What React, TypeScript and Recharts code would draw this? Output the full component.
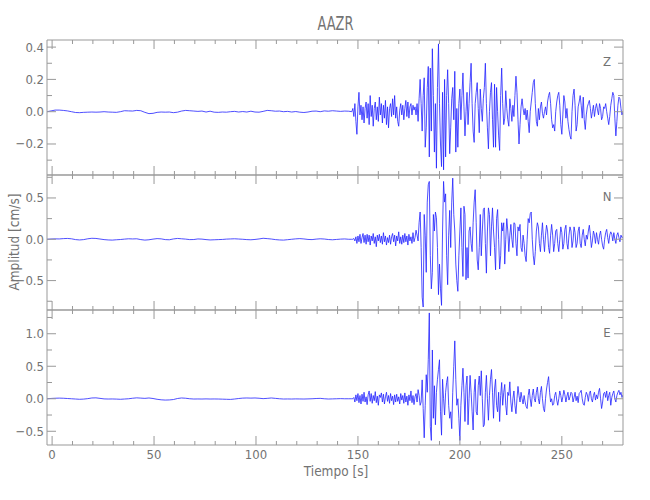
import React from 'react';
import { LineChart, Line, XAxis, YAxis } from 'recharts';

// ---------- time grid ----------
const QUIET_START = -2.5;
const QUIET_STEP = 2;
const ACTIVE_START = 147;
const ACTIVE_STEP = 0.5;
const TIME_DOMAIN: [number, number] = [-2.5, 280];
const X_TICKS = [0, 10, 20, 30, 40, 50, 60, 70, 80, 90, 100, 110, 120, 130, 140, 150, 160, 170, 180, 190, 200, 210, 220, 230, 240, 250, 260, 270];
const X_LABELS = [0, 50, 100, 150, 200, 250];

// ---------- Z component ----------
const zQuiet = [
  0.0, 0.005, 0.01, 0.01, 0.008, 0.005, 0.0, -0.005, -0.006, -0.004,
  -0.003, -0.002, -0.003, -0.002, 0.0, -0.002, -0.003, -0.004, 0.0, 0.006,
  0.005, 0.004, 0.008, 0.006, -0.004, -0.012, -0.01, -0.004, -0.002, -0.003,
  -0.002, -0.006, -0.003, 0.004, 0.008, 0.006, 0.004, 0.002, 0.004, -0.002,
  0.003, -0.003, -0.004, -0.002, -0.003, 0.0, 0.002, -0.002, 0.001, -0.002,
  0.003, -0.002, -0.003, 0.002, 0.008, 0.006, 0.003, 0.004, 0.0, 0.002,
  -0.002, 0.001, -0.003, -0.005, -0.002, 0.003, 0.004, 0.0, 0.005, 0.003,
  0.006, 0.004, 0.002, 0.004, 0.003,
];
const zActive = [
  0.0, 0.02, -0.03, 0.05, -0.06, -0.14, 0.03, 0.12, -0.02, 0.04,
  -0.05, 0.03, -0.07, 0.02, 0.06, -0.04, 0.05, -0.08, 0.1, -0.03,
  0.04, -0.09, 0.02, 0.06, -0.05, 0.03, -0.06, 0.09, -0.02, 0.05,
  -0.07, 0.04, -0.04, 0.07, -0.08, 0.03, -0.1, 0.02, 0.05, -0.03,
  0.08, -0.02, 0.1, -0.04, 0.03, -0.06, -0.09, 0.01, 0.05, -0.02,
  0.04, -0.05, 0.02, 0.07, -0.03, 0.06, -0.04, 0.03, 0.05, -0.02,
  0.04, 0.01, 0.03, -0.02, 0.05, -0.06, 0.08, 0.2, 0.05, -0.12,
  0.1, 0.21, -0.22, -0.1, 0.15, 0.28, -0.28, 0.27, -0.12, 0.39,
  0.1, -0.25, 0.05, -0.35, 0.15, 0.42, 0.05, -0.2, -0.34, 0.12,
  -0.36, 0.2, -0.28, 0.1, 0.26, 0.05, -0.26, -0.1, 0.08, 0.15,
  -0.05, 0.25, -0.25, 0.02, -0.22, 0.05, 0.14, -0.05, 0.1, 0.24,
  0.03, -0.15, 0.0, 0.12, -0.08, 0.05, 0.18, 0.3, 0.05, -0.12,
  -0.19, 0.05, 0.12, 0.18, 0.02, -0.13, 0.14, 0.02, -0.06, 0.08,
  0.15, 0.3, 0.05, -0.1, -0.23, 0.0, 0.12, 0.18, -0.05, -0.22,
  0.17, -0.22, 0.15, 0.0, -0.15, -0.24, 0.1, 0.27, 0.05, -0.08,
  -0.04, 0.13, 0.02, -0.05, -0.09, 0.08, 0.02, -0.06, 0.04, -0.03,
  0.1, 0.22, 0.12, -0.05, -0.2, -0.08, 0.03, 0.08, 0.02, -0.02,
  0.02, -0.05, 0.01, -0.06, -0.13, 0.0, 0.06, 0.12, 0.18, 0.2,
  0.05, -0.06, -0.09, 0.02, -0.05, 0.03, 0.06, -0.01, -0.04, 0.0,
  0.03, -0.02, 0.06, 0.1, 0.12, 0.05, -0.05, -0.1, -0.08, -0.12,
  0.0, 0.06, 0.1, 0.12, 0.04, -0.08, -0.14, -0.02, 0.1, 0.06,
  -0.04, 0.02, -0.06, -0.11, -0.15, -0.17, 0.0, 0.1, 0.14, 0.04,
  -0.12, -0.08, 0.03, 0.06, 0.1, 0.04, -0.04, 0.09, -0.05, -0.11,
  -0.02, 0.03, 0.05, 0.07, 0.02, -0.04, 0.0, 0.04, -0.03, 0.02,
  0.05, 0.01, -0.02, 0.05, 0.02, -0.05, -0.03, 0.03, 0.02, 0.05,
  0.0, -0.04, -0.08, -0.03, 0.04, 0.08, 0.12, 0.1, -0.04, -0.15,
  -0.06, 0.04, 0.09, 0.08, 0.02, -0.02, 0.0,
];

// ---------- N component ----------
const nQuiet = [
  0.0, 0.003, 0.005, 0.004, 0.008, 0.01, 0.006, -0.004, -0.008, -0.004,
  0.006, 0.012, 0.01, 0.003, -0.004, -0.008, -0.01, -0.006, -0.003, 0.002,
  0.006, 0.004, 0.006, -0.004, -0.01, -0.006, 0.002, 0.008, 0.005, -0.004,
  -0.006, 0.004, 0.01, 0.006, 0.002, -0.004, -0.003, 0.004, 0.002, -0.004,
  -0.008, -0.006, -0.004, -0.002, 0.002, 0.004, 0.006, 0.003, 0.0, -0.004,
  -0.006, -0.002, 0.004, 0.012, 0.008, 0.003, -0.004, -0.008, -0.01, -0.005,
  0.0, 0.005, 0.008, 0.004, -0.002, -0.004, 0.002, 0.006, 0.003, -0.003,
  -0.006, -0.002, 0.002, 0.004, 0.0,
];
const nActive = [
  0.0, 0.0, 0.01, -0.02, 0.03, -0.05, 0.04, -0.03, 0.06, -0.05,
  0.02, 0.07, -0.04, 0.05, -0.06, 0.06, -0.03, 0.05, -0.07, 0.04,
  -0.02, 0.07, -0.05, 0.03, -0.09, 0.05, -0.02, 0.06, -0.04, 0.04,
  -0.06, 0.08, -0.03, 0.04, -0.07, 0.02, -0.04, 0.05, -0.06, 0.03,
  0.07, -0.03, 0.05, -0.08, 0.04, -0.02, 0.09, -0.05, 0.03, -0.06,
  0.05, -0.04, 0.07, -0.03, 0.04, -0.07, 0.06, -0.02, 0.03, -0.05,
  0.08, -0.03, 0.02, 0.11, 0.05, -0.02, 0.2, 0.33, -0.1, -0.7,
  -0.82, 0.3, 0.05, -0.4, 0.45, 0.66, 0.7, -0.2, -0.6, -0.4,
  0.3, 0.1, 0.33, 0.26, -0.1, -0.67, -0.3, -0.6, -0.8, 0.1,
  0.7, 0.45, 0.55, -0.2, -0.55, 0.05, 0.35, -0.1, 0.45, 0.74,
  0.3, 0.1, -0.3, -0.5, -0.63, -0.2, 0.1, 0.38, -0.1, -0.45,
  0.4, 0.3, -0.49, -0.1, -0.47, 0.1, 0.15, -0.05, -0.15, 0.2,
  0.45, 0.6, 0.2, -0.25, -0.37, -0.1, 0.3, -0.2, 0.1, 0.36,
  0.38, -0.05, -0.41, 0.1, 0.38, 0.3, -0.2, 0.15, 0.38, 0.1,
  -0.1, -0.37, 0.25, 0.36, 0.0, -0.36, -0.2, 0.2, 0.1, 0.2,
  -0.3, 0.0, 0.25, 0.1, -0.15, 0.05, 0.18, 0.0, -0.1, 0.2,
  0.19, -0.05, -0.2, 0.15, 0.1, 0.18, -0.1, -0.15, 0.05, -0.05,
  -0.2, -0.27, 0.0, 0.25, 0.2, 0.31, 0.33, 0.0, -0.2, -0.31,
  -0.15, 0.1, 0.2, 0.15, -0.05, -0.15, 0.05, 0.2, 0.0, -0.15,
  0.05, 0.17, 0.1, -0.1, -0.17, 0.05, 0.18, 0.05, -0.15, -0.05,
  0.1, 0.12, -0.05, -0.15, 0.0, 0.15, 0.08, -0.12, -0.05, 0.12,
  0.17, -0.05, -0.12, 0.05, 0.15, 0.1, -0.1, -0.02, 0.15, 0.08,
  -0.1, -0.05, 0.1, 0.15, -0.05, -0.1, 0.05, 0.12, 0.0, -0.08,
  0.05, 0.0, 0.1, 0.17, 0.05, -0.1, -0.02, 0.1, 0.05, -0.05,
  0.08, 0.0, -0.06, 0.05, 0.1, 0.0, -0.08, -0.12, 0.0, 0.08,
  0.12, 0.02, -0.05, 0.05, 0.09, 0.06, -0.02, 0.08, 0.0, -0.05,
  0.05, 0.08, 0.02, -0.03, 0.05, 0.02, 0.03,
];

// ---------- E component ----------
const eQuiet = [
  0.0, 0.005, 0.008, 0.01, 0.008, 0.004, 0.0, -0.004, -0.008, -0.005,
  0.002, 0.012, 0.014, 0.006, -0.002, -0.004, -0.003, -0.005, -0.008, -0.004,
  0.0, 0.008, 0.014, 0.01, 0.006, 0.012, 0.004, -0.008, -0.016, -0.02,
  -0.018, -0.012, 0.004, 0.012, 0.008, 0.0, -0.004, -0.003, -0.004, -0.002,
  -0.004, -0.003, -0.004, -0.006, -0.008, -0.01, -0.004, 0.004, 0.01, 0.012,
  0.01, 0.012, 0.008, 0.002, 0.006, 0.012, 0.006, 0.0, -0.004, -0.003,
  -0.004, -0.002, -0.003, -0.004, -0.002, 0.0, 0.004, 0.006, 0.0, -0.004,
  -0.002, 0.0, 0.002, 0.0, 0.0,
];
const eActive = [
  0.0, 0.0, 0.02, -0.05, 0.06, -0.03, 0.08, -0.06, 0.05, -0.08,
  0.07, -0.04, 0.1, -0.05, 0.03, -0.09, 0.06, 0.12, -0.04, 0.08,
  -0.07, 0.05, -0.03, 0.11, -0.06, 0.04, -0.1, 0.06, 0.02, 0.09,
  -0.05, 0.07, -0.08, 0.03, 0.1, -0.04, 0.05, -0.07, 0.08, -0.03,
  0.04, -0.09, 0.06, -0.05, 0.07, -0.04, 0.03, -0.08, 0.08, -0.02,
  0.05, -0.07, 0.09, -0.05, 0.04, -0.1, 0.06, -0.03, 0.12, -0.06,
  0.05, -0.09, 0.03, 0.08, -0.05, 0.14, 0.05, -0.1, -0.05, 0.29,
  -0.15, -0.6, -0.1, 0.37, 0.1, 0.6, 1.32, -0.43, -0.64, 0.75,
  -0.3, 0.2, -0.4, 0.1, 0.3, 0.45, 0.6, -0.2, -0.56, 0.3,
  0.0, -0.25, 0.1, 0.25, 0.34, -0.1, -0.3, -0.2, -0.46, 0.1,
  0.5, 0.89, 0.3, -0.1, 0.0, -0.3, -0.64, -0.1, 0.2, 0.47,
  0.1, -0.35, 0.2, 0.35, -0.4, 0.0, 0.36, 0.1, -0.2, -0.48,
  0.1, 0.3, -0.2, -0.25, 0.2, 0.35, 0.05, 0.43, 0.0, -0.43,
  -0.4, 0.1, 0.36, 0.0, -0.33, 0.05, 0.3, 0.45, 0.1, -0.3,
  0.15, 0.3, -0.1, -0.2, 0.1, -0.35, 0.05, 0.25, -0.1, 0.1,
  0.22, -0.1, -0.25, 0.1, 0.05, 0.26, -0.05, -0.2, 0.0, 0.12,
  -0.1, -0.23, 0.0, 0.19, 0.05, -0.05, 0.1, 0.0, -0.08, 0.05,
  -0.05, -0.12, -0.15, 0.05, 0.15, 0.0, -0.12, 0.05, 0.15, 0.0,
  -0.05, 0.1, 0.18, 0.0, -0.08, 0.1, 0.19, 0.0, -0.15, -0.2,
  0.0, 0.15, 0.25, 0.34, 0.1, -0.05, 0.0, -0.1, -0.08, 0.05,
  0.1, -0.02, -0.1, 0.0, 0.12, 0.05, -0.05, 0.03, 0.13, 0.06,
  -0.05, 0.04, 0.1, -0.02, 0.03, 0.1, 0.08, -0.05, 0.02, 0.1,
  -0.03, 0.04, -0.06, 0.08, 0.1, 0.13, 0.0, -0.08, -0.1, 0.02,
  0.1, 0.06, -0.04, 0.08, 0.12, 0.0, -0.05, 0.05, 0.1, -0.02,
  0.06, 0.0, 0.1, 0.16, 0.0, -0.15, -0.05, 0.08, 0.1, 0.02,
  0.12, -0.03, 0.05, 0.1, -0.1, 0.02, 0.08, 0.12, 0.0, -0.05,
  0.05, 0.1, 0.13, 0.06, 0.1, 0.02, 0.06,
];

// ---------- y axes ----------
const zDomain: [number, number] = [-0.392, 0.444];
const zTicks = [-0.3, -0.2, -0.1, 0, 0.1, 0.2, 0.3, 0.4];
const zLabels = [-0.2, 0, 0.2, 0.4];
const nDomain: [number, number] = [-0.856, 0.778];
const nTicks = [-0.75, -0.5, -0.25, 0, 0.25, 0.5, 0.75];
const nLabels = [-0.5, 0, 0.5];
const eDomain: [number, number] = [-0.711, 1.365];
const eTicks = [-0.5, -0.25, 0, 0.25, 0.5, 0.75, 1.0, 1.25];
const eLabels = [-0.5, 0, 0.5, 1.0];

const TITLE = 'AAZR';
const X_TITLE = 'Tiempo [s]';
const Y_TITLE = 'Amplitud [cm/s]';

const AXIS = '#999999';
const TEXT = '#737373';
const TRACE = '#2222ff';
const FONT = '"Liberation Sans Narrow", "DejaVu Sans Condensed", "Liberation Sans", sans-serif';

function buildSeries(quiet: number[], active: number[]) {
  return [
    ...quiet.map((v, i) => ({ t: QUIET_START + i * QUIET_STEP, v })),
    ...active.map((v, i) => ({ t: ACTIVE_START + i * ACTIVE_STEP, v })),
  ];
}

const PANELS = [
  { name: 'Z', data: buildSeries(zQuiet, zActive), domain: zDomain, ticks: zTicks, labels: zLabels, top: 40, letterY: 61 },
  { name: 'N', data: buildSeries(nQuiet, nActive), domain: nDomain, ticks: nTicks, labels: nLabels, top: 175, letterY: 196 },
  { name: 'E', data: buildSeries(eQuiet, eActive), domain: eDomain, ticks: eTicks, labels: eLabels, top: 310, letterY: 332 },
];
const PANEL_H = 135;
const W = 650;
const H = 500;
const AX = 1; // axis band thickness

const isIn = (list: number[], v: number) => list.some((l) => Math.abs(l - v) < 1e-9);
const fmtY = (v: number) => (v < 0 ? '\u2212' : '') + Math.abs(v).toFixed(1);

function makeXTick(side: 'bottom' | 'top', showLabel: boolean) {
  return (props: any) => {
    const { x, y, payload } = props;
    const major = isIn(X_LABELS, payload.value);
    const len = major ? 9 : 4;
    const dir = side === 'bottom' ? -1 : 1;
    return (
      <g>
        <line x1={x} x2={x} y1={y} y2={y + dir * len} stroke={AXIS} strokeWidth={1} />
        {showLabel && major && (
          <text x={x} y={y + 14} textAnchor="middle" fill={TEXT} fontSize={13} fontFamily={FONT}>
            {payload.value}
          </text>
        )}
      </g>
    );
  };
}

function makeYTick(side: 'left' | 'right', labels: number[]) {
  return (props: any) => {
    const { x, y, payload } = props;
    const major = isIn(labels, payload.value);
    const len = major ? 9 : 5;
    const dir = side === 'left' ? 1 : -1;
    return (
      <g>
        <line x1={x} x2={x + dir * len} y1={y} y2={y} stroke={AXIS} strokeWidth={1} />
        {side === 'left' && major && (
          <text x={x - 3} y={y + 4.5} textAnchor="end" fill={TEXT} fontSize={13} fontFamily={FONT}>
            {fmtY(payload.value)}
          </text>
        )}
      </g>
    );
  };
}

export default function App() {
  return (
    <div style={{ position: 'absolute', left: 0, top: 0, width: W, height: H, background: '#ffffff', overflow: 'hidden' }}>
      {PANELS.map((p, idx) => (
        <div key={p.name} style={{ position: 'absolute', left: 0, top: 0 }}>
          <LineChart
            width={W}
            height={H}
            data={p.data}
            margin={{ top: p.top - AX, bottom: H - p.top - PANEL_H - AX, left: 47 - AX, right: 27 - AX }}
          >
            <XAxis
              xAxisId="b"
              orientation="bottom"
              type="number"
              dataKey="t"
              domain={TIME_DOMAIN}
              allowDataOverflow
              ticks={X_TICKS}
              interval={0}
              height={AX}
              tickSize={0}
              tickMargin={0}
              tickLine={false}
              axisLine={{ stroke: AXIS }}
              tick={makeXTick('bottom', idx === PANELS.length - 1)}
            />
            <XAxis
              xAxisId="t"
              orientation="top"
              type="number"
              dataKey="t"
              domain={TIME_DOMAIN}
              allowDataOverflow
              ticks={X_TICKS}
              interval={0}
              height={AX}
              tickSize={0}
              tickMargin={0}
              tickLine={false}
              axisLine={{ stroke: AXIS }}
              tick={makeXTick('top', false)}
            />
            <YAxis
              yAxisId="l"
              orientation="left"
              type="number"
              domain={p.domain}
              allowDataOverflow
              ticks={p.ticks}
              interval={0}
              width={AX}
              tickSize={0}
              tickMargin={0}
              tickLine={false}
              axisLine={{ stroke: AXIS }}
              tick={makeYTick('left', p.labels)}
            />
            <YAxis
              yAxisId="r"
              orientation="right"
              type="number"
              domain={p.domain}
              allowDataOverflow
              ticks={p.ticks}
              interval={0}
              width={AX}
              tickSize={0}
              tickMargin={0}
              tickLine={false}
              axisLine={{ stroke: AXIS }}
              tick={makeYTick('right', p.labels)}
            />
            <Line
              xAxisId="b"
              yAxisId="l"
              type="linear"
              dataKey="v"
              stroke={TRACE}
              strokeWidth={0.8}
              dot={false}
              activeDot={false}
              isAnimationActive={false}
            />
          </LineChart>
        </div>
      ))}
      <svg width={W} height={H} style={{ position: 'absolute', left: 0, top: 0, pointerEvents: 'none' }}>
        <text x={335.5} y={29.5} textAnchor="middle" fill={TEXT} fontSize={20} fontFamily={FONT} textLength={36} lengthAdjust="spacingAndGlyphs">
          {TITLE}
        </text>
        <text x={336} y={476} textAnchor="middle" fill={TEXT} fontSize={13.5} fontFamily={FONT}>
          {X_TITLE}
        </text>
        <text
          x={14}
          y={242}
          textAnchor="middle"
          dominantBaseline="central"
          fill={TEXT}
          fontSize={13.5}
          fontFamily={FONT}
          transform="rotate(-90 14 242)"
        >
          {Y_TITLE}
        </text>
        {PANELS.map((p) => (
          <text key={p.name} x={607} y={p.letterY + 5} textAnchor="middle" fill={TEXT} fontSize={13} fontFamily={FONT}>
            {p.name}
          </text>
        ))}
      </svg>
    </div>
  );
}
